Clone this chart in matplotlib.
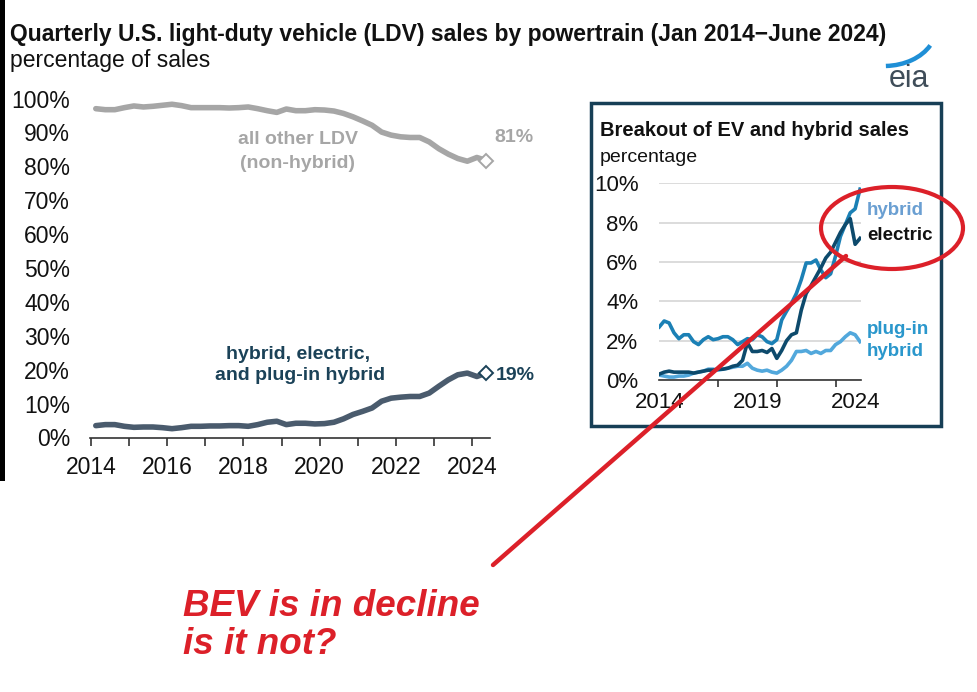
import numpy as np
import matplotlib.pyplot as plt
from matplotlib.patches import Rectangle, Ellipse, Arc
from matplotlib.lines import Line2D

plt.rcParams['font.family'] = ['Liberation Sans', 'DejaVu Sans']

W, H = 978, 692

# quarterly shares, Q1 2014 .. Q2 2024 (percent of LDV sales)
other_ldv = [97.0, 96.7, 96.7, 97.3, 97.8, 97.5, 97.7, 98.0, 98.3, 97.9,
             97.3, 97.3, 97.3, 97.3, 97.2, 97.3, 97.5, 97.0, 96.4, 95.9,
             96.9, 96.4, 96.4, 96.7, 96.6, 96.3, 95.6, 94.6, 93.4, 92.1,
             90.1, 89.2, 88.7, 88.5, 88.5, 87.2, 85.2, 83.6, 82.3, 81.5,
             82.6, 81.7]
ev_total = [3.5, 3.8, 3.8, 3.3, 3.0, 3.1, 3.1, 2.9, 2.6, 2.9,
            3.3, 3.3, 3.4, 3.4, 3.5, 3.5, 3.3, 3.8, 4.5, 4.8,
            3.8, 4.2, 4.2, 4.0, 4.1, 4.5, 5.5, 6.8, 7.7, 8.7,
            10.7, 11.6, 11.9, 12.1, 12.1, 13.1, 15.1, 17.0, 18.5, 19.0,
            18.0, 19.0]

# breakout (inset)
hybrid = [2.7, 3.0, 2.9, 2.4, 2.1, 2.3, 2.3, 1.95, 1.8, 2.05,
          2.2, 2.05, 2.1, 2.2, 2.2, 2.05, 1.8, 1.95, 2.1, 2.05,
          2.3, 2.2, 1.95, 1.85, 2.05, 3.05, 3.5, 3.9, 4.4, 5.1,
          5.95, 5.95, 6.1, 5.6, 5.2, 5.4, 6.3, 7.3, 7.9, 8.5,
          8.7, 9.7]
electric = [0.3, 0.4, 0.45, 0.4, 0.4, 0.4, 0.4, 0.35, 0.4, 0.45,
            0.5, 0.5, 0.55, 0.55, 0.6, 0.7, 0.75, 1.0, 1.9, 1.45,
            1.45, 1.5, 1.4, 1.6, 1.1, 1.5, 2.0, 2.3, 2.4, 3.55,
            4.4, 4.8, 5.25, 5.7, 6.2, 6.5, 7.0, 7.5, 7.9, 8.2,
            6.9, 7.2]
plugin = [0.25, 0.2, 0.15, 0.15, 0.2, 0.2, 0.25, 0.35, 0.4, 0.45,
          0.55, 0.55, 0.5, 0.55, 0.6, 0.65, 0.7, 0.7, 0.85, 0.6,
          0.5, 0.45, 0.5, 0.4, 0.35, 0.5, 0.7, 1.0, 1.45, 1.45,
          1.5, 1.35, 1.45, 1.35, 1.5, 1.5, 1.8, 1.95, 2.2, 2.4,
          2.3, 1.95]

main_years = list(range(2014, 2025))
main_yticks = list(range(0, 101, 10))
inset_labels = [2014, 2019, 2024]
inset_ticks = [2014, 2017, 2020, 2023]
inset_yticks = [0, 2, 4, 6, 8, 10]

GRAY = '#a6a6a6'
SLATE = '#4a5b6d'
TEAL = '#1b4258'
C_HYB = '#1b80b5'
C_ELEC = '#0d4a6c'
C_PHEV = '#52a8dc'
RED = '#dc2029'


def fx(x):
    return x / W


def fy(y):
    return 1 - y / H


fig = plt.figure(figsize=(W / 100, H / 100), dpi=100)
fig.patch.set_facecolor('white')

quarters = 2014 + 0.25 * np.arange(len(other_ldv))

# ---- main chart
ax = fig.add_axes([fx(89.5), fy(437.5), (490 - 89.5) / W, (437.5 - 98.5) / H])
ax.plot(quarters + 0.125, other_ldv, color=GRAY, lw=4, solid_capstyle='round', solid_joinstyle='round')
ax.plot(quarters + 0.125, ev_total, color=SLATE, lw=4, solid_capstyle='round', solid_joinstyle='round')
ax.plot(quarters[-1] + 0.125, other_ldv[-1], marker='D', ms=7, mfc='white', mec=GRAY, mew=1.4, clip_on=False)
ax.plot(quarters[-1] + 0.125, ev_total[-1], marker='D', ms=7, mfc='white', mec=TEAL, mew=1.4, clip_on=False)
ax.set_xlim(2013.96, 2024.47)
ax.set_ylim(0, 100)
for s in ['top', 'right', 'left']:
    ax.spines[s].set_visible(False)
ax.spines['bottom'].set_color('#333333')
ax.spines['bottom'].set_linewidth(1.2)
ax.set_xticks(main_years)
ax.set_xticklabels([str(y) if y % 2 == 0 else '' for y in main_years])
ax.set_yticks(main_yticks)
ax.set_yticklabels([f'{v}%' for v in main_yticks])
ax.tick_params(axis='x', length=6, width=1.2, color='#333333', pad=7, labelsize=16.5, labelcolor='#111111')
ax.tick_params(axis='y', length=0, pad=14, labelsize=16.5, labelcolor='#111111')
ax.set_facecolor('none')

# ---- header
fig.text(fx(10), fy(35), 'Quarterly U.S. light-duty vehicle (LDV) sales by powertrain (Jan 2014\u2212June 2024)',
         fontsize=16.5, fontweight='bold', color='#111111', va='center', ha='left')
fig.text(fx(10), fy(60), 'percentage of sales', fontsize=16.5, color='#111111', va='center', ha='left')

# eia logo
fig.text(fx(909), fy(79), 'eia', fontsize=22, color='#3f4d59', ha='center', va='center')
fig.add_artist(Arc((fx(884), fy(28)), 104 / W, 76 / H, theta1=272, theta2=332,
                   transform=fig.transFigure, color='#1f8fd6', lw=3.2))

# series labels
fig.text(fx(298), fy(140), 'all other LDV', fontsize=14, fontweight='bold', color=GRAY, ha='center', va='center')
fig.text(fx(298), fy(163), '(non-hybrid)', fontsize=14, fontweight='bold', color=GRAY, ha='center', va='center')
fig.text(fx(494), fy(138), '81%', fontsize=14, fontweight='bold', color=GRAY, ha='left', va='center')
fig.text(fx(298), fy(355), 'hybrid, electric,', fontsize=14, fontweight='bold', color=TEAL, ha='center', va='center')
fig.text(fx(300), fy(375), 'and plug-in hybrid', fontsize=14, fontweight='bold', color=TEAL, ha='center', va='center')
fig.text(fx(496), fy(375), '19%', fontsize=14, fontweight='bold', color=TEAL, ha='left', va='center')

# ---- inset
fig.add_artist(Rectangle((fx(591), fy(426)), (941 - 591) / W, (426 - 102.5) / H, transform=fig.transFigure,
                         fill=False, edgecolor='#173f56', lw=2.5))
fig.text(fx(600), fy(131), 'Breakout of EV and hybrid sales', fontsize=14.5, fontweight='bold',
         color='#111111', ha='left', va='center')
fig.text(fx(600), fy(157), 'percentage', fontsize=14, color='#111111', ha='left', va='center')

ax2 = fig.add_axes([fx(659.3), fy(380), (861 - 659.3) / W, (380 - 183.3) / H])
ax2.plot(quarters, plugin, color=C_PHEV, lw=2.6, solid_joinstyle='round')
ax2.plot(quarters, hybrid, color=C_HYB, lw=2.6, solid_joinstyle='round')
ax2.plot(quarters, electric, color=C_ELEC, lw=2.6, solid_joinstyle='round')
ax2.set_xlim(2014, 2024.3)
ax2.set_ylim(0, 10)
for s in ['top', 'right', 'left']:
    ax2.spines[s].set_visible(False)
ax2.spines['bottom'].set_color('#333333')
ax2.spines['bottom'].set_linewidth(1.2)
ax2.set_yticks(inset_yticks)
ax2.set_yticklabels([f'{v}%' for v in inset_yticks])
ax2.grid(axis='y', color='#d9d9d9', lw=1.3)
ax2.set_axisbelow(True)
ax2.set_xticks(inset_labels)
ax2.set_xticklabels([str(v) for v in inset_labels])
ax2.set_xticks(inset_ticks, minor=True)
ax2.tick_params(axis='x', which='major', length=0, pad=9, labelsize=16, labelcolor='#111111')
ax2.tick_params(axis='x', which='minor', length=5, width=1.2, color='#333333')
ax2.tick_params(axis='y', length=0, pad=15, labelsize=16, labelcolor='#111111')
ax2.set_facecolor('none')

fig.text(fx(867), fy(211), 'hybrid', fontsize=13.5, fontweight='bold', color='#6a9fd2', ha='left', va='center')
fig.text(fx(867), fy(235), 'electric', fontsize=13.5, fontweight='bold', color='#111111', ha='left', va='center')
fig.text(fx(867), fy(330), 'plug-in', fontsize=13.5, fontweight='bold', color='#2a97cc', ha='left', va='center')
fig.text(fx(867), fy(352), 'hybrid', fontsize=13.5, fontweight='bold', color='#2a97cc', ha='left', va='center')

# ---- red annotation
fig.add_artist(Ellipse((fx(892), fy(228)), 142 / W, 82 / H, transform=fig.transFigure,
                       fill=False, edgecolor=RED, lw=3))
fig.add_artist(Line2D([fx(493), fx(846)], [fy(565), fy(256)], transform=fig.transFigure,
                      color=RED, lw=3.2, solid_capstyle='round'))
fig.text(fx(183), fy(606), 'BEV is in decline', fontsize=26.5, fontweight='bold', fontstyle='italic',
         color=RED, ha='left', va='center')
fig.text(fx(183), fy(645), 'is it not?', fontsize=26.5, fontweight='bold', fontstyle='italic',
         color=RED, ha='left', va='center')

# black strip at the left edge of the screenshot
fig.add_artist(Rectangle((0, fy(481)), 5 / W, 481 / H, transform=fig.transFigure, color='black', lw=0))

fig.savefig('out.png', dpi=100)
